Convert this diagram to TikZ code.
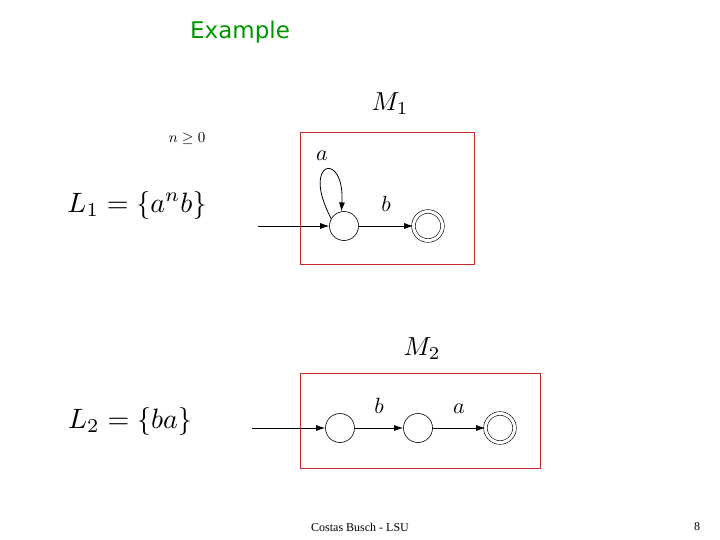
\documentclass[tikz,border=0pt]{standalone}
\usepackage{fontspec}
\setsansfont{DejaVu Sans}
\newfontfamily\timesf{Liberation Serif}
\usetikzlibrary{arrows.meta}
\definecolor{exgreen}{RGB}{0,150,0}
\definecolor{boxred}{RGB}{200,40,40}
\begin{document}
\begin{tikzpicture}[x=1pt,y=-1pt,
  st/.style={circle,draw,line width=0.6pt,minimum size=29pt,inner sep=0pt},
  fin/.style={st,double,double distance=3pt,minimum size=29pt},
  conn/.style={-{Latex[length=9pt,width=6pt]},line width=0.8pt},
  frame/.style={draw=boxred,line width=0.6pt},
  lbl/.style={inner sep=0pt,scale=2.2}]
\useasboundingbox (0,0) rectangle (720,540);
\node[text=exgreen,font=\sffamily\fontsize{23}{26}\selectfont] (title) at (240,32) {Example};
\node[inner sep=0pt,scale=2.6] (m1) at (390,104) {$M_1$};
\node[inner sep=0pt,scale=1.5] (n) at (187,139) {$n\geq 0$};
\node[inner sep=0pt,scale=2.8] (l1) at (137,205) {$L_1=\{a^n b\}$};
\node[frame,minimum width=174pt,minimum height=132pt,inner sep=0pt] (box1) at (387,198) {};
\node[st] (q0) at (344,226) {};
\node[fin] (q1) at (428,226) {};
\coordinate (s1) at (258,226);
\draw[conn] (s1) -- (q0);
\draw[conn] (q0) -- node[lbl,above=6pt] (lb1) {$b$} (q1);
\draw[conn] (q0.150) .. controls (300,160) and (345,150) .. (q0.100);
\node[lbl] (la1) at (322,156) {$a$};
\node[inner sep=0pt,scale=2.6] (m2) at (422,349) {$M_2$};
\node[inner sep=0pt,scale=2.8] (l2) at (130,421) {$L_2=\{ba\}$};
\node[frame,minimum width=240pt,minimum height=95pt,inner sep=0pt] (box2) at (420,420.5) {};
\node[st] (p0) at (340,428) {};
\node[st] (p1) at (418,428) {};
\node[fin] (p2) at (500,428) {};
\coordinate (s2) at (252,428);
\draw[conn] (s2) -- (p0);
\draw[conn] (p0) -- node[lbl,above=6pt] (lb2) {$b$} (p1);
\draw[conn] (p1) -- node[lbl,above=6pt] (la2) {$a$} (p2);
\node[font=\timesf\fontsize{12}{13}\selectfont] (foot) at (360,527) {Costas Busch - LSU};
\node[font=\timesf\fontsize{12}{13}\selectfont] (pg) at (697,527) {8};
\end{tikzpicture}
\end{document}
